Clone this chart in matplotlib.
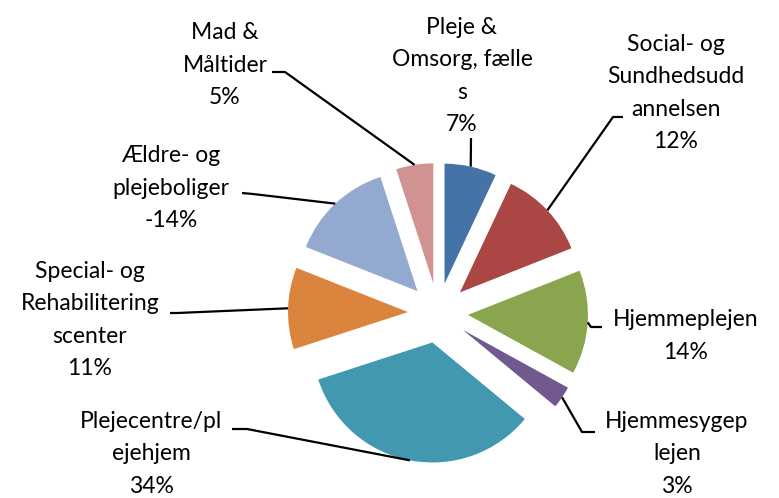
import math
import matplotlib
matplotlib.use('Agg')
import matplotlib.pyplot as plt

labels = ['Pleje &\nOmsorg, fælle\ns',
          'Social- og\nSundhedsudd\nannelsen',
          'Hjemmeplejen',
          'Hjemmesygep\nlejen',
          'Plejecentre/pl\nejehjem',
          'Special- og\nRehabilitering\nscenter',
          'Ældre- og\nplejeboliger',
          'Mad &\nMåltider']
values = [7, 12, 14, 3, 34, 11, -14, 5]
colors = ['#4572A7', '#AA4643', '#89A54E', '#71588F',
          '#4198AF', '#DB843D', '#93A9CF', '#D19392']

plt.rcParams['font.family'] = ['Lato', 'DejaVu Sans']

W, H = 779, 498
fig = plt.figure(figsize=(W / 100, H / 100), dpi=100)
ax = fig.add_axes([0, 0, 1, 1])

wedges, _ = ax.pie([abs(v) for v in values], colors=colors, startangle=90,
                   counterclock=False, center=(438, 185), radius=120,
                   explode=[30] * len(values),
                   wedgeprops=dict(linewidth=0))

# label block centres and leader elbows (pixel layout, y up)
text_pos = [(462, 422), (676, 405), (686, 162), (677, 44),
            (151, 44), (90, 178), (171, 310), (225, 433)]
elbows = [[(471, 360)],
          [(613, 381), (623, 381)],
          [(591, 171), (602, 171)],
          [(582, 66), (595, 66)],
          [(247, 69), (232, 69)],
          [(177, 185), (170, 185)],
          [(253, 304), (242, 305)],
          [(285, 426), (272, 426)]]

for w, lab, v, (tx, ty), el in zip(wedges, labels, values, text_pos, elbows):
    mid = math.radians((w.theta1 + w.theta2) / 2)
    px = w.center[0] + w.r * math.cos(mid)
    py = w.center[1] + w.r * math.sin(mid)
    xs = [px] + [p[0] for p in el]
    ys = [py] + [p[1] for p in el]
    ax.plot(xs, ys, color='black', linewidth=1.6, solid_capstyle='butt')
    ax.text(tx, ty, f'{lab}\n{v}%', ha='center', va='center',
            multialignment='center', fontsize=16.5, linespacing=1.68,
            color='black')

ax.set_xlim(0, W)
ax.set_ylim(0, H)
ax.set_aspect('equal')
ax.axis('off')

fig.savefig('out.png', dpi=100)
